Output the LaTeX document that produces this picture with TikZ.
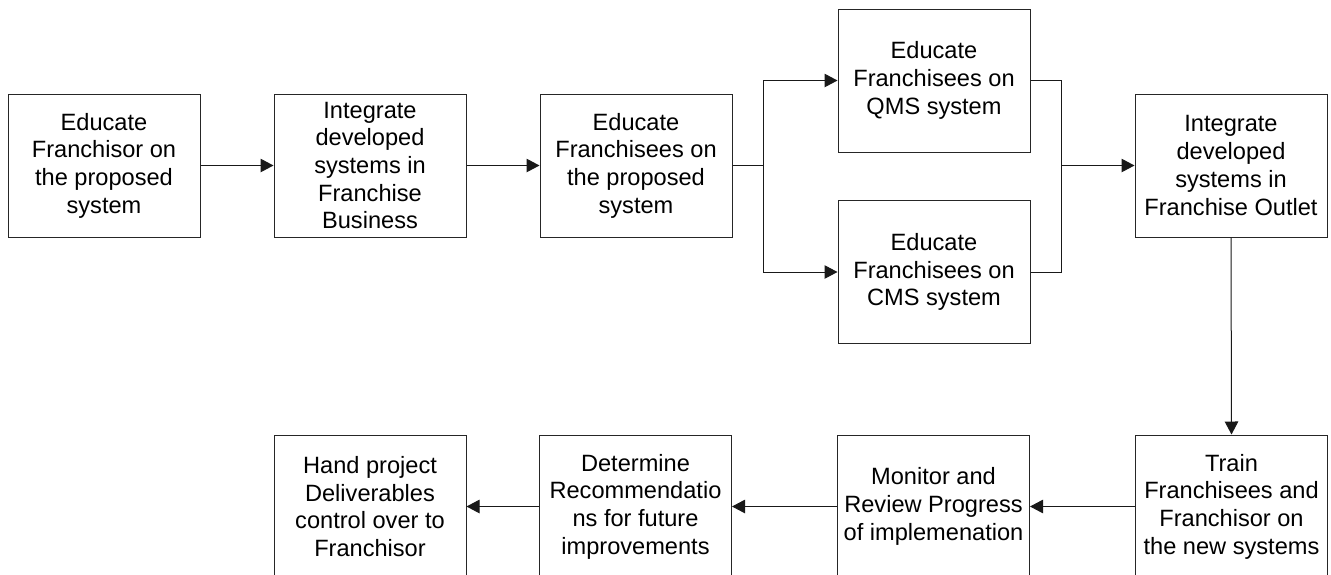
\documentclass[tikz,border=0pt]{standalone}
\usepackage{fontspec}
\setmainfont{Liberation Sans}
\usetikzlibrary{arrows.meta}

\begin{document}
\begin{tikzpicture}[
  x=1pt, y=-1pt,
  stepbox/.style={draw=black!85, line width=1pt, fill=white,
    minimum width=192pt, minimum height=143pt, inner sep=0pt,
    align=center, font=\fontsize{23.6}{27.7}\selectfont},
  flow/.style={draw=black!90, line width=1pt},
  tip/.style={flow, -{Triangle[length=13pt, width=13.5pt]}}
]
\useasboundingbox (0,0) rectangle (1331,574);
\clip (0,0) rectangle (1331,574);

% top row
\node[stepbox] (b1) at (104,165.5) {Educate\\Franchisor on\\the proposed\\system};
\node[stepbox] (b2) at (370,165.5) {Integrate\\developed\\systems in\\Franchise\\Business};
\node[stepbox] (b3) at (636,165.5) {Educate\\Franchisees on\\the proposed\\system};
\node[stepbox] (qms) at (934,80.5) {Educate\\Franchisees on\\QMS system};
\node[stepbox] (cms) at (934,272) {Educate\\Franchisees on\\CMS system};
\node[stepbox] (b4) at (1231,165.5) {Integrate\\developed\\systems in\\Franchise Outlet};

% bottom row
\node[stepbox] (b5) at (1231.5,506.5) {Train\\Franchisees and\\Franchisor on\\the new systems};
\node[stepbox] (b6) at (933.5,506.5) {Monitor and\\Review Progress\\of implemenation};
\node[stepbox] (b7) at (635.5,506.5) {Determine\\Recommendatio\\ns for future\\improvements};
\node[stepbox] (b8) at (370,506.5) {Hand project\\Deliverables\\control over to\\Franchisor};

% branch points
\coordinate (split) at (763,165.5);
\coordinate (join) at (1061,165.5);

% connectors
\draw[tip] (b1.east) -- (b2.west);
\draw[tip] (b2.east) -- (b3.west);
\draw[flow] (b3.east) -- (split);
\draw[tip] (split) |- (qms.west);
\draw[tip] (split) |- (cms.west);
\draw[flow] (qms.east) -| (join);
\draw[flow] (cms.east) -| (join);
\draw[tip] (join) -- (b4.west);
\draw[tip] (b4.south) -- (b5.north);
\draw[tip] (b5.west) -- (b6.east);
\draw[tip] (b6.west) -- (b7.east);
\draw[tip] (b7.west) -- (b8.east);
\end{tikzpicture}
\end{document}
